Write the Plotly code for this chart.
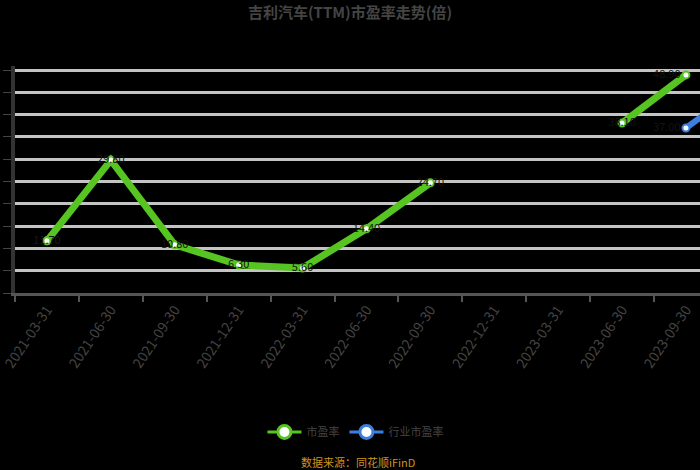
import plotly.graph_objects as go

categories = ["2021-03-31", "2021-06-30", "2021-09-30", "2021-12-31", "2022-03-31",
              "2022-06-30", "2022-09-30", "2022-12-31", "2023-03-31", "2023-06-30",
              "2023-09-30", "2023-12-31"]
pe_values = [11.7, 29.8, 10.8, 6.3, 5.6, 14.4, 24.7, None, None, 38.1, 48.9, None]
industry_values = [11.7, None, None, None, None, None, None, None, None, None, 37.0, 47.5]
y_ticks = [0, 5, 10, 15, 20, 25, 30, 35, 40, 45, 50]
series_names = ["市盈率", "行业市盈率"]

green = "#56c421"
blue = "#3c7fe0"
VISIBLE = 11  # categories visible inside the window


def labels(vals):
    return [f"{v:.2f}" if (v is not None and i < VISIBLE) else "" for i, v in enumerate(vals)]


def positions(vals):
    return ["middle left" if i == VISIBLE - 1 else "middle center" for i in range(len(vals))]


fig = go.Figure()
fig.add_trace(go.Scatter(
    x=categories, y=industry_values, name=series_names[1], mode="lines+markers+text",
    connectgaps=False, showlegend=False,
    line=dict(color=blue, width=6),
    marker=dict(size=7, color="white", line=dict(color=blue, width=2)),
    text=labels(industry_values), textposition=positions(industry_values),
    textfont=dict(color="#141414", size=11),
))
fig.add_trace(go.Scatter(
    x=categories, y=pe_values, name=series_names[0], mode="lines+markers+text",
    connectgaps=False, showlegend=False,
    line=dict(color=green, width=7),
    marker=dict(size=7, color="white", line=dict(color=green, width=2)),
    text=labels(pe_values), textposition=positions(pe_values),
    textfont=dict(color="#141414", size=11),
))
for name, col in zip(series_names, [green, blue]):
    fig.add_trace(go.Scatter(
        x=[None], y=[None], name=name, mode="lines+markers",
        line=dict(color=col, width=3),
        marker=dict(size=13, color="white", line=dict(color=col, width=3)),
    ))

fig.update_layout(
    width=700, height=470,
    paper_bgcolor="black", plot_bgcolor="black",
    margin=dict(l=9, r=0, t=66, b=177),
    title=dict(text="<b>吉利汽车(TTM)市盈率走势(倍)</b>", x=0.5, xanchor="center",
               y=0.972, yanchor="middle",
               font=dict(family="Noto Sans CJK SC", size=15, color="#444444")),
    font=dict(family="Noto Sans CJK SC", color="#444444"),
    showlegend=True,
    legend=dict(orientation="h", x=0.497, xanchor="center", y=-0.612, yanchor="middle",
                font=dict(size=11, color="#444444"), itemwidth=34),
    xaxis=dict(type="category", range=[-0.5, 10.22], tickson="boundaries",
               ticks="outside", ticklen=6, tickcolor="#555555", tickwidth=2,
               showline=True, linecolor="#555555", linewidth=3,
               showgrid=False, tickangle=-56,
               tickfont=dict(size=14, color="#444444")),
    yaxis=dict(range=[0, 50.9], tickvals=y_ticks, showticklabels=False,
               ticks="outside", ticklen=8, tickcolor="#444444",
               showline=True, linecolor="#333333", linewidth=4,
               showgrid=True, gridcolor="#c4c4c4", gridwidth=3, zeroline=False),
    annotations=[dict(text="数据来源：同花顺iFinD", xref="paper", yref="paper",
                      x=0.5, y=-0.743, xanchor="center", yanchor="middle",
                      showarrow=False, font=dict(size=11, color="#c8961e"))],
)

fig.write_html("out.html", config={"displayModeBar": False},
               post_script="document.body.style.margin='0';document.body.style.background='black';")
